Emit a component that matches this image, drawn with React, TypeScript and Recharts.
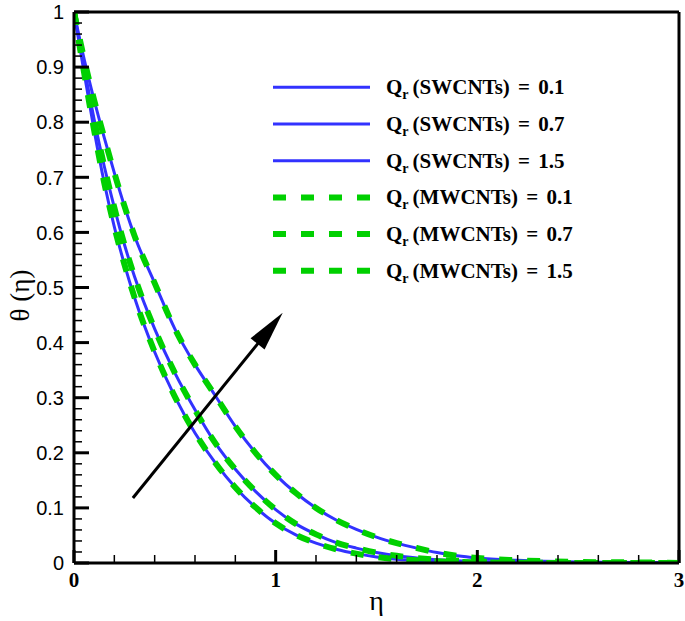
import { Legend, Line, LineChart, ReferenceLine, XAxis, YAxis } from "recharts";

// similarity variable
const eta = [0, 0.05, 0.1, 0.15, 0.2, 0.25, 0.3, 0.4, 0.5, 0.6, 0.7, 0.8, 0.9, 1.0, 1.1, 1.2, 1.3, 1.4, 1.5, 1.6, 1.7, 1.8, 1.9, 2.0, 2.2, 2.5, 2.8, 3.0];

// theta(eta)
const swcnt01 = [1, 0.89, 0.785, 0.69, 0.61, 0.542, 0.482, 0.383, 0.302, 0.236, 0.182, 0.137, 0.101, 0.072, 0.051, 0.036, 0.025, 0.017, 0.011, 0.007, 0.005, 0.003, 0.002, 0.001, 0.0005, 0, 0, 0];
const swcnt07 = [1, 0.9, 0.805, 0.72, 0.645, 0.578, 0.52, 0.425, 0.345, 0.278, 0.218, 0.17, 0.13, 0.097, 0.071, 0.052, 0.037, 0.027, 0.019, 0.013, 0.009, 0.006, 0.004, 0.003, 0.001, 0, 0, 0];
const swcnt15 = [1, 0.915, 0.84, 0.772, 0.708, 0.648, 0.594, 0.508, 0.425, 0.36, 0.304, 0.248, 0.2, 0.16, 0.127, 0.1, 0.078, 0.061, 0.047, 0.036, 0.027, 0.019, 0.013, 0.009, 0.005, 0.002, 0.001, 0];
const mwcnt01 = [1, 0.89, 0.785, 0.69, 0.61, 0.542, 0.482, 0.383, 0.302, 0.236, 0.182, 0.137, 0.101, 0.072, 0.051, 0.036, 0.025, 0.017, 0.011, 0.007, 0.005, 0.003, 0.002, 0.001, 0.0005, 0, 0, 0];
const mwcnt07 = [1, 0.9, 0.805, 0.72, 0.645, 0.578, 0.52, 0.425, 0.345, 0.278, 0.218, 0.17, 0.13, 0.097, 0.071, 0.052, 0.037, 0.027, 0.019, 0.013, 0.009, 0.006, 0.004, 0.003, 0.001, 0, 0, 0];
const mwcnt15 = [1, 0.915, 0.84, 0.772, 0.708, 0.648, 0.594, 0.508, 0.425, 0.36, 0.304, 0.248, 0.2, 0.16, 0.127, 0.1, 0.078, 0.061, 0.047, 0.036, 0.027, 0.019, 0.013, 0.009, 0.005, 0.002, 0.001, 0];

const series = [
  { key: "s01", name: "(SWCNTs) = 0.1", values: swcnt01, kind: "sw" },
  { key: "s07", name: "(SWCNTs) = 0.7", values: swcnt07, kind: "sw" },
  { key: "s15", name: "(SWCNTs) = 1.5", values: swcnt15, kind: "sw" },
  { key: "m01", name: "(MWCNTs) = 0.1", values: mwcnt01, kind: "mw" },
  { key: "m07", name: "(MWCNTs) = 0.7", values: mwcnt07, kind: "mw" },
  { key: "m15", name: "(MWCNTs) = 1.5", values: mwcnt15, kind: "mw" },
];

const xMajorTicks = [0, 1, 2, 3];
const yMajorTicks = [0, 0.1, 0.2, 0.3, 0.4, 0.5, 0.6, 0.7, 0.8, 0.9, 1];
const arrowFrom = { eta: 0.292, theta: 0.118 };
const arrowTo = { eta: 1.035, theta: 0.454 };

const BLUE = "#3232ff";
const GREEN = "#00d000";
const DASH = "13 15";
const SERIF = "'Liberation Serif', 'Times New Roman', serif";

const rows = eta.map((e, i) => {
  const r: Record<string, number> = { eta: e };
  series.forEach((s) => (r[s.key] = s.values[i]));
  return r;
});

// 4 minor ticks between every pair of majors
function withMinor(major: number[], parts: number) {
  const out: number[] = [];
  for (let i = 0; i < major.length - 1; i++) {
    const step = (major[i + 1] - major[i]) / parts;
    for (let j = 0; j < parts; j++) out.push(+(major[i] + j * step).toFixed(4));
  }
  out.push(major[major.length - 1]);
  return out;
}
const xTicks = withMinor(xMajorTicks, 5);
const yTicks = withMinor(yMajorTicks, 5);

const isMajor = (list: number[], v: number) => list.some((m) => Math.abs(m - v) < 1e-6);

function YTick({ x, y, payload }: any) {
  const major = isMajor(yMajorTicks, payload.value);
  return (
    <g>
      <line x1={x} x2={x + (major ? 15 : 8)} y1={y} y2={y} stroke="#000" strokeWidth={major ? 3 : 1.5} />
      {major && (
        <text x={x - 10} y={y} dy="0.36em" textAnchor="end" fontFamily="'Liberation Sans', Arial, sans-serif" fontSize={20} fill="#000">
          {String(+payload.value.toFixed(1))}
        </text>
      )}
    </g>
  );
}

function XTick({ x, y, payload }: any) {
  const major = isMajor(xMajorTicks, payload.value);
  return (
    <g>
      <line x1={x} x2={x} y1={y} y2={y - (major ? 13 : 8)} stroke="#000" strokeWidth={major ? 3 : 1.5} />
      {major && (
        <text x={x} y={y + 24} textAnchor="middle" fontFamily={SERIF} fontWeight="bold" fontSize={21} fill="#000">
          {payload.value}
        </text>
      )}
    </g>
  );
}

function YTitle({ viewBox }: any) {
  const cx = 20;
  const cy = viewBox.y + viewBox.height / 2 + 8;
  return (
    <text x={cx} y={cy} transform={`rotate(-90, ${cx}, ${cy})`} textAnchor="middle" dy="0.35em" fontFamily={SERIF} fontSize={27} fill="#000">
      θ (η)
    </text>
  );
}

function XTitle({ viewBox }: any) {
  const cx = viewBox.x + viewBox.width / 2;
  return (
    <text x={cx} y={610} textAnchor="middle" fontFamily={SERIF} fontSize={28} fill="#000">
      η
    </text>
  );
}

function Arrow({ x1, y1, x2, y2 }: any) {
  const dx = x2 - x1;
  const dy = y2 - y1;
  const len = Math.hypot(dx, dy);
  const ux = dx / len;
  const uy = dy / len;
  const head = 40;
  const half = 9;
  const bx = x2 - ux * head;
  const by = y2 - uy * head;
  return (
    <g>
      <line x1={x1} y1={y1} x2={bx + ux * 2} y2={by + uy * 2} stroke="#000" strokeWidth={3} />
      <polygon points={`${x2},${y2} ${bx - uy * half},${by + ux * half} ${bx + uy * half},${by - ux * half}`} fill="#000" />
    </g>
  );
}

function LegendBox() {
  return (
    <svg width={340} height={240}>
      {series.map((s, i) => {
        const ly = 19.3 + i * 36.7;
        return (
          <g key={s.key}>
            <line
              x1={5}
              x2={102}
              y1={ly}
              y2={ly}
              stroke={s.kind === "sw" ? BLUE : GREEN}
              strokeWidth={s.kind === "sw" ? 3 : 6}
              strokeDasharray={s.kind === "sw" ? undefined : DASH}
            />
            <text x={118} y={ly + 7} fontFamily={SERIF} fontWeight="bold" fontSize={21} fill="#000">
              Q
              <tspan fontSize={14} dy={5}>r</tspan>
              <tspan dy={-5} dx={4} wordSpacing={3}>{s.name}</tspan>
            </text>
          </g>
        );
      })}
    </svg>
  );
}

export default function App() {
  return (
    <div style={{ position: "absolute", left: 0, top: 0, width: 685, height: 621 }}>
      <LineChart width={685} height={621} data={rows} margin={{ top: 12, right: 6, bottom: 0, left: 0 }}>
        <XAxis
          dataKey="eta"
          type="number"
          domain={[0, 3]}
          ticks={xTicks}
          interval={0}
          height={58}
          tickSize={0}
          tickMargin={0}
          tickLine={false}
          tick={<XTick />}
          axisLine={{ stroke: "#000", strokeWidth: 3 }}
          label={{ content: XTitle }}
          allowDataOverflow
        />
        <YAxis
          type="number"
          domain={[0, 1]}
          ticks={yTicks}
          interval={0}
          width={74}
          tickSize={0}
          tickMargin={0}
          tickLine={false}
          tick={<YTick />}
          axisLine={{ stroke: "#000", strokeWidth: 3 }}
          label={{ content: YTitle }}
          allowDataOverflow
        />
        <ReferenceLine y={1} stroke="#000" strokeWidth={3} />
        <ReferenceLine x={3} stroke="#000" strokeWidth={3} />
        {series
          .filter((s) => s.kind === "sw")
          .map((s) => (
            <Line key={s.key} type="monotone" dataKey={s.key} name={s.name} stroke={BLUE} strokeWidth={3} dot={false} activeDot={false} isAnimationActive={false} />
          ))}
        {series
          .filter((s) => s.kind === "mw")
          .map((s) => (
            <Line key={s.key} type="monotone" dataKey={s.key} name={s.name} stroke={GREEN} strokeWidth={6} strokeDasharray={DASH} dot={false} activeDot={false} isAnimationActive={false} />
          ))}
        <ReferenceLine
          segment={[
            { x: arrowFrom.eta, y: arrowFrom.theta },
            { x: arrowTo.eta, y: arrowTo.theta },
          ]}
          ifOverflow="visible"
          shape={Arrow}
        />
        <Legend
          layout="horizontal"
          verticalAlign="middle"
          align="center"
          wrapperStyle={{ left: 268, top: 68, width: 340, height: 240 }}
          content={() => <LegendBox />}
        />
      </LineChart>
    </div>
  );
}
